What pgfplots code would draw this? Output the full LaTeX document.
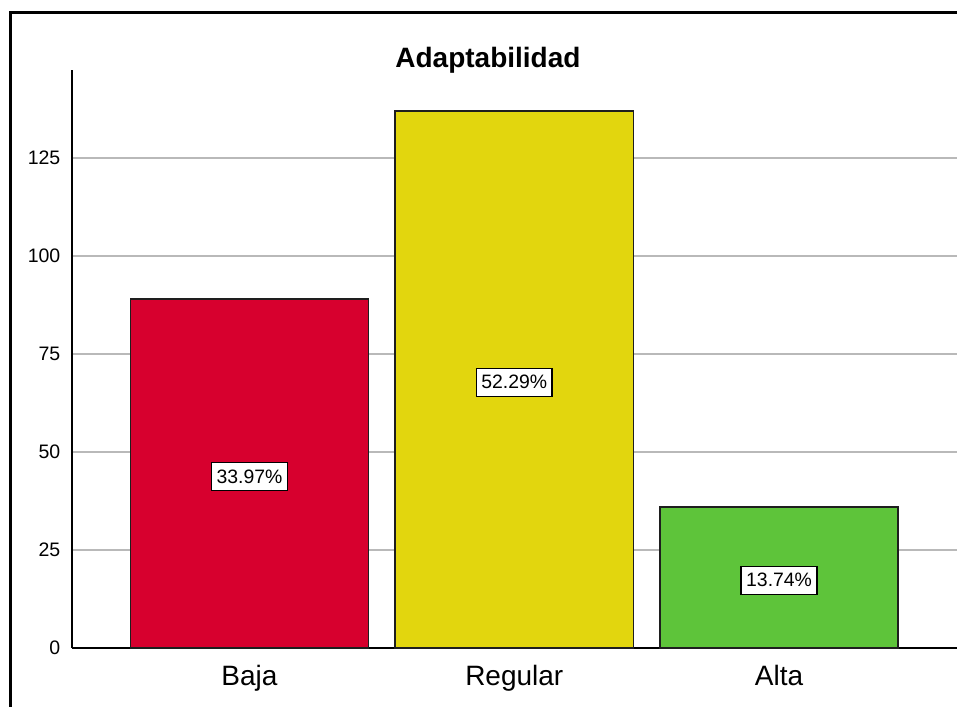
\documentclass[border=0pt]{standalone}
\usepackage{pgfplots}
\pgfplotsset{compat=1.18}
\usepackage{fontspec}
\setmainfont{Liberation Sans}
\definecolor{cred}{RGB}{215,0,46}
\definecolor{cyel}{RGB}{226,214,14}
\definecolor{cgrn}{RGB}{94,196,58}
\definecolor{cgrid}{RGB}{185,185,185}
\definecolor{cedge}{RGB}{30,30,30}
\begin{document}
\begin{tikzpicture}
\useasboundingbox (-36pt,-29pt) rectangle (442.5pt,324pt);
\draw[line width=1.3pt, black] (-30.75pt,-40pt) -- (-30.75pt,317.75pt) -- (450pt,317.75pt);
\begin{axis}[
  at={(0,0)}, anchor=south west,
  scale only axis,
  width=442.5pt, height=289pt,
  xmin=-0.6704, xmax=2.672,
  ymin=0, ymax=147.45,
  axis x line=bottom, axis y line=left,
  axis line style={line width=0.75pt, black, -},
  xtick={0,1,2},
  xticklabels={Baja,Regular,Alta},
  ytick={0,25,50,75,100,125},
  major tick length=0pt,
  ymajorgrids,
  grid style={line width=0.75pt, cgrid},
  /pgf/number format/assume math mode=true,
  yticklabel style={font=\fontsize{9.75}{10}\selectfont, xshift=-2.3pt},
  xticklabel style={font=\fontsize{14}{15}\selectfont, yshift=-5pt},
  title={\bfseries Adaptabilidad},
  title style={at={(0.47,1)}, anchor=base, yshift=-4.8pt, font=\fontsize{14}{15}\selectfont},
  clip=false,
]
\addplot[ybar, bar width=0.9, bar shift=0pt, fill=cred, draw=cedge, line width=0.75pt] coordinates {(0,89)};
\addplot[ybar, bar width=0.9, bar shift=0pt, fill=cyel, draw=cedge, line width=0.75pt] coordinates {(1,137)};
\addplot[ybar, bar width=0.9, bar shift=0pt, fill=cgrn, draw=cedge, line width=0.75pt] coordinates {(2,36)};
\addplot[draw=none, mark=none, nodes near coords, point meta=explicit symbolic,
  every node near coord/.style={anchor=center, yshift=-1.5pt, draw=black, line width=0.75pt, fill=white, inner xsep=2.5pt, inner ysep=3.2pt, text height=7pt, text depth=0.5pt, font=\fontsize{9.7}{10}\selectfont}]
  coordinates {(0,44.5)[33.97\%] (1,68.5)[52.29\%] (2,18)[13.74\%]};
\end{axis}
\end{tikzpicture}
\end{document}
